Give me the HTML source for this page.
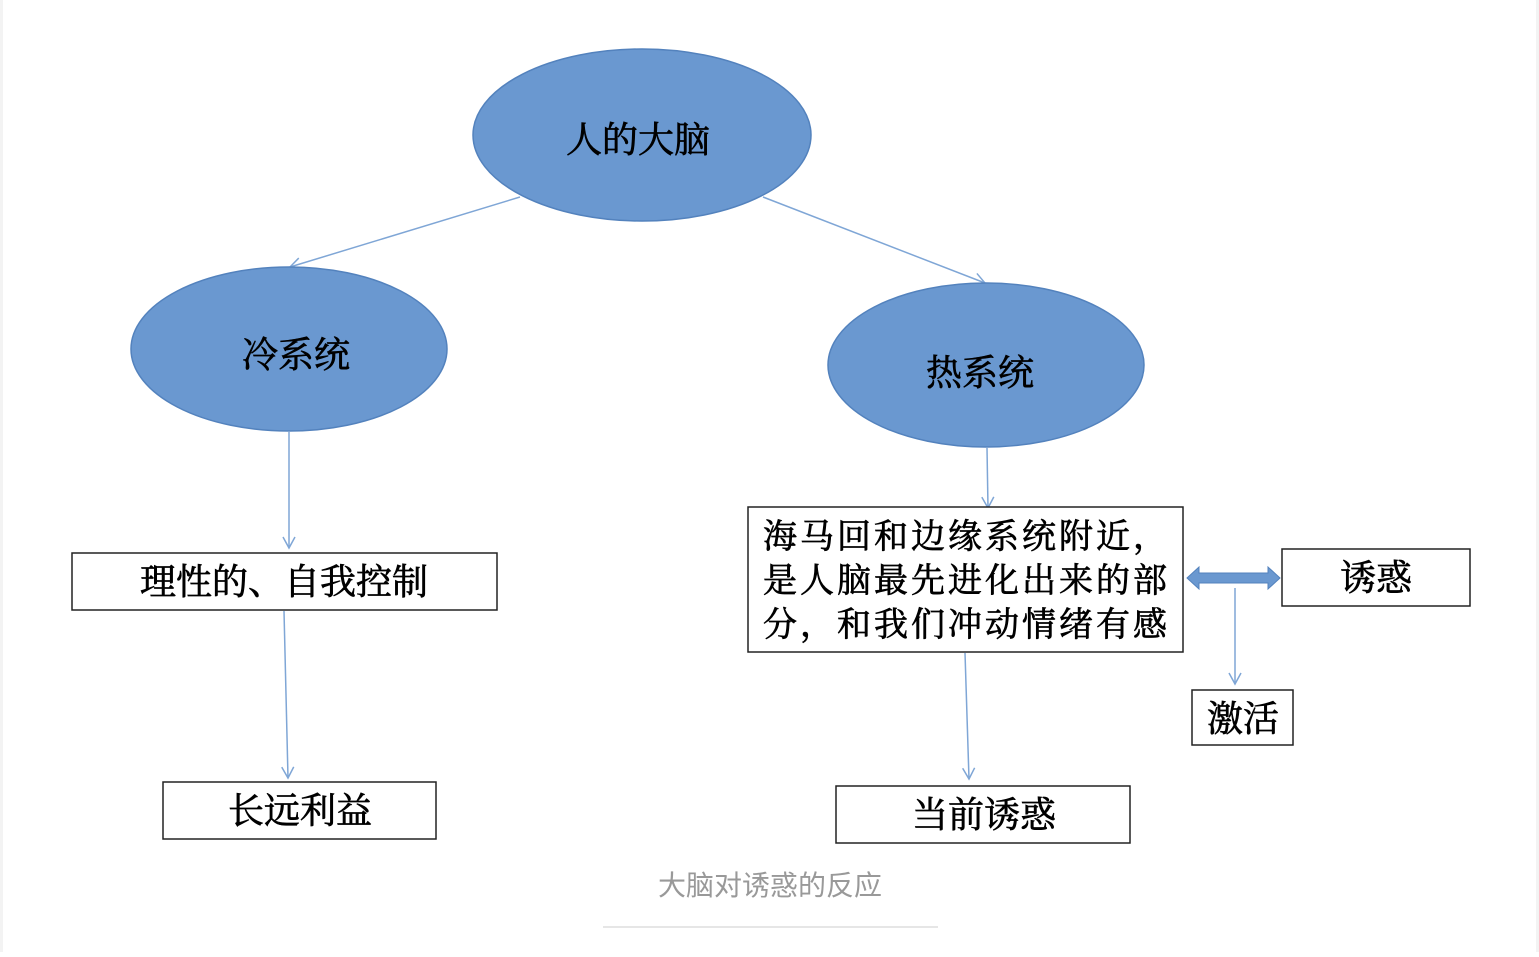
<!DOCTYPE html>
<html><head><meta charset="utf-8"><style>
html,body{margin:0;padding:0;background:#fff;}
body{width:1539px;height:952px;overflow:hidden;position:relative;}
svg text{font-family:"Liberation Serif","Noto Serif CJK SC",serif;fill:#000;}
</style></head><body>
<div style="position:absolute;left:0;top:0;width:3px;height:952px;background:#f3f3f3"></div>
<div style="position:absolute;right:0;top:0;width:3px;height:952px;background:#f3f3f3"></div>
<svg width="1539" height="952" viewBox="0 0 1539 952" xmlns="http://www.w3.org/2000/svg">
<defs>
<marker id="a" markerWidth="14" markerHeight="14" refX="12" refY="7" orient="auto" markerUnits="userSpaceOnUse">
<path d="M1,1 L12,7 L1,13" fill="none" stroke="#7fa6d6" stroke-width="1.5"/>
</marker>
</defs>
<g stroke="#7fa6d6" stroke-width="1.5" fill="none" marker-end="url(#a)">
<line x1="520" y1="197" x2="290" y2="267"/>
<line x1="763" y1="197" x2="985" y2="283"/>
<line x1="289" y1="432" x2="289" y2="548"/>
<line x1="284" y1="611" x2="288" y2="778"/>
<line x1="987" y1="448" x2="988" y2="508"/>
<line x1="965" y1="653" x2="969" y2="779"/>
<line x1="1235" y1="588" x2="1235" y2="684"/>
</g>
<g fill="#6a98d0" stroke="#5382bd" stroke-width="1.5">
<ellipse cx="642" cy="135" rx="169" ry="86"/>
<ellipse cx="289" cy="349" rx="158" ry="82"/>
<ellipse cx="986" cy="365" rx="158" ry="82"/>
</g>
<path d="M1187,578 L1199,567 L1199,573 L1268,573 L1268,567 L1280,578 L1268,589 L1268,583 L1199,583 L1199,589 Z" fill="#6a98d0" stroke="#5382bd" stroke-width="1"/>
<g fill="#fff" stroke="#222" stroke-width="1.5">
<rect x="72" y="553" width="425" height="57"/>
<rect x="163" y="782" width="273" height="57"/>
<rect x="748" y="507" width="435" height="145"/>
<rect x="1282" y="549" width="188" height="57"/>
<rect x="1192" y="690" width="101" height="55"/>
<rect x="836" y="786" width="294" height="57"/>
</g>
<g font-size="36" text-anchor="middle" stroke="#000" stroke-width="0.7">
<text x="638" y="152">人的大脑</text>
<text x="296" y="367">冷系统</text>
<text x="980" y="385">热系统</text>
<text x="284" y="594">理性的、自我控制</text>
<text x="300" y="823">长远利益</text>
<text x="1376" y="590">诱惑</text>
<text x="1243" y="731">激活</text>
<text x="984" y="827">当前诱惑</text>
</g>
<g font-size="34" stroke="#000" stroke-width="0.7">
<text x="763" y="548" textLength="404">海马回和边缘系统附近，</text>
<text x="763" y="592" textLength="404">是人脑最先进化出来的部</text>
<text x="763" y="636" textLength="404">分，和我们冲动情绪有感</text>
</g>
<text x="770" y="895" font-size="28" text-anchor="middle" style="fill:#999;font-family:'Liberation Sans','Noto Sans CJK SC',sans-serif">大脑对诱惑的反应</text>
<line x1="603" y1="927" x2="938" y2="927" stroke="#ddd" stroke-width="1.5"/>
</svg>
</body></html>
